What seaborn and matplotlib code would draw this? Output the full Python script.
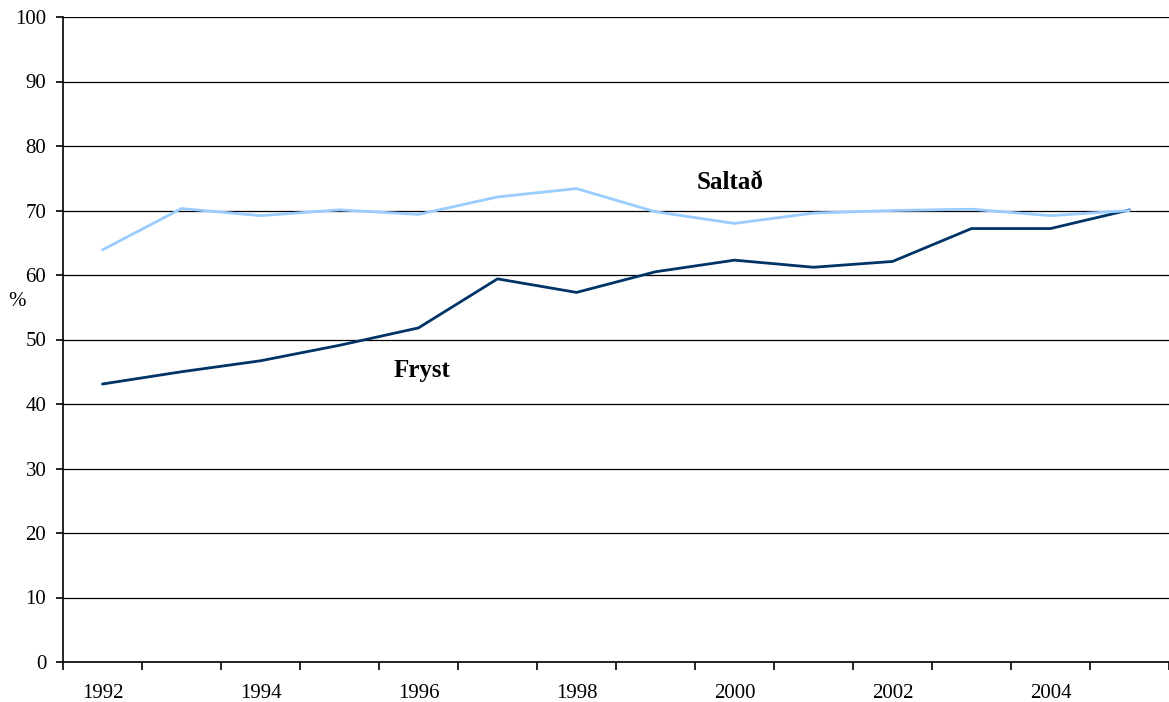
import pandas as pd
import numpy as np
import seaborn as sns
import matplotlib.pyplot as plt

# --- DADOS ---
years = list(range(1992, 2006))
fryst = [43.1, 45.0, 46.7, 49.1, 51.8, 59.4, 57.3, 60.5, 62.3, 61.2, 62.1, 67.2, 67.2, 70.1]
saltad = [63.9, 70.3, 69.2, 70.1, 69.4, 72.1, 73.4, 69.8, 68.0, 69.6, 70.0, 70.2, 69.2, 70.0]
year_labels = [str(y) if y % 2 == 0 else "" for y in years]

df = pd.DataFrame({
    "pos": list(range(len(years))) * 2,
    "value": fryst + saltad,
    "series": ["Fryst"] * len(years) + ["Saltað"] * len(years),
})

# --- ESTILO ---
sns.set_style("white")
plt.rcParams["font.family"] = ["Liberation Serif", "DejaVu Serif"]
plt.rcParams["text.color"] = "black"
plt.rcParams["xtick.color"] = "black"
plt.rcParams["ytick.color"] = "black"

fig = plt.figure(figsize=(11.69, 7.02), dpi=100)
ax = fig.add_axes([63 / 1169, 40 / 702, 1106 / 1169, 645 / 702])

sns.lineplot(
    data=df, x="pos", y="value", hue="series",
    palette={"Fryst": "#003366", "Saltað": "#99CCFF"},
    linewidth=2.0, legend=False, ax=ax, zorder=3
)

ax.set_xlim(-0.5, len(years) - 0.5)
ax.set_ylim(0, 100)
ax.set_yticks(np.arange(0, 101, 10))
ax.yaxis.grid(True, color="black", linewidth=0.9)
ax.set_axisbelow(True)

# eixo x: rótulos no centro das categorias, marcas entre categorias
ax.set_xticks(range(len(years)))
ax.set_xticklabels(year_labels)
ax.set_xticks(np.arange(-0.5, len(years), 1.0), minor=True)
ax.tick_params(axis="x", which="major", bottom=True, length=0, pad=16, labelsize=15)
ax.tick_params(axis="x", which="minor", bottom=True, length=6, width=1.2,
               color="black", direction="out")
ax.tick_params(axis="y", which="major", left=True, length=5, width=1.2, color="black",
               direction="out", pad=7, labelsize=15)

for side in ["top", "right"]:
    ax.spines[side].set_visible(False)
for side in ["left", "bottom"]:
    ax.spines[side].set_color("black")
    ax.spines[side].set_linewidth(1.2)

ax.set_xlabel("")
ax.set_ylabel("")
fig.text(17 / 1169, 1 - 302 / 702, "%", fontsize=15, ha="center", va="center")

ax.text(7.95, 74.3, "Saltað", fontsize=18, fontweight="bold", ha="center", va="center")
ax.text(4.05, 45.2, "Fryst", fontsize=18, fontweight="bold", ha="center", va="center")

fig.savefig("out.png", dpi=100)
